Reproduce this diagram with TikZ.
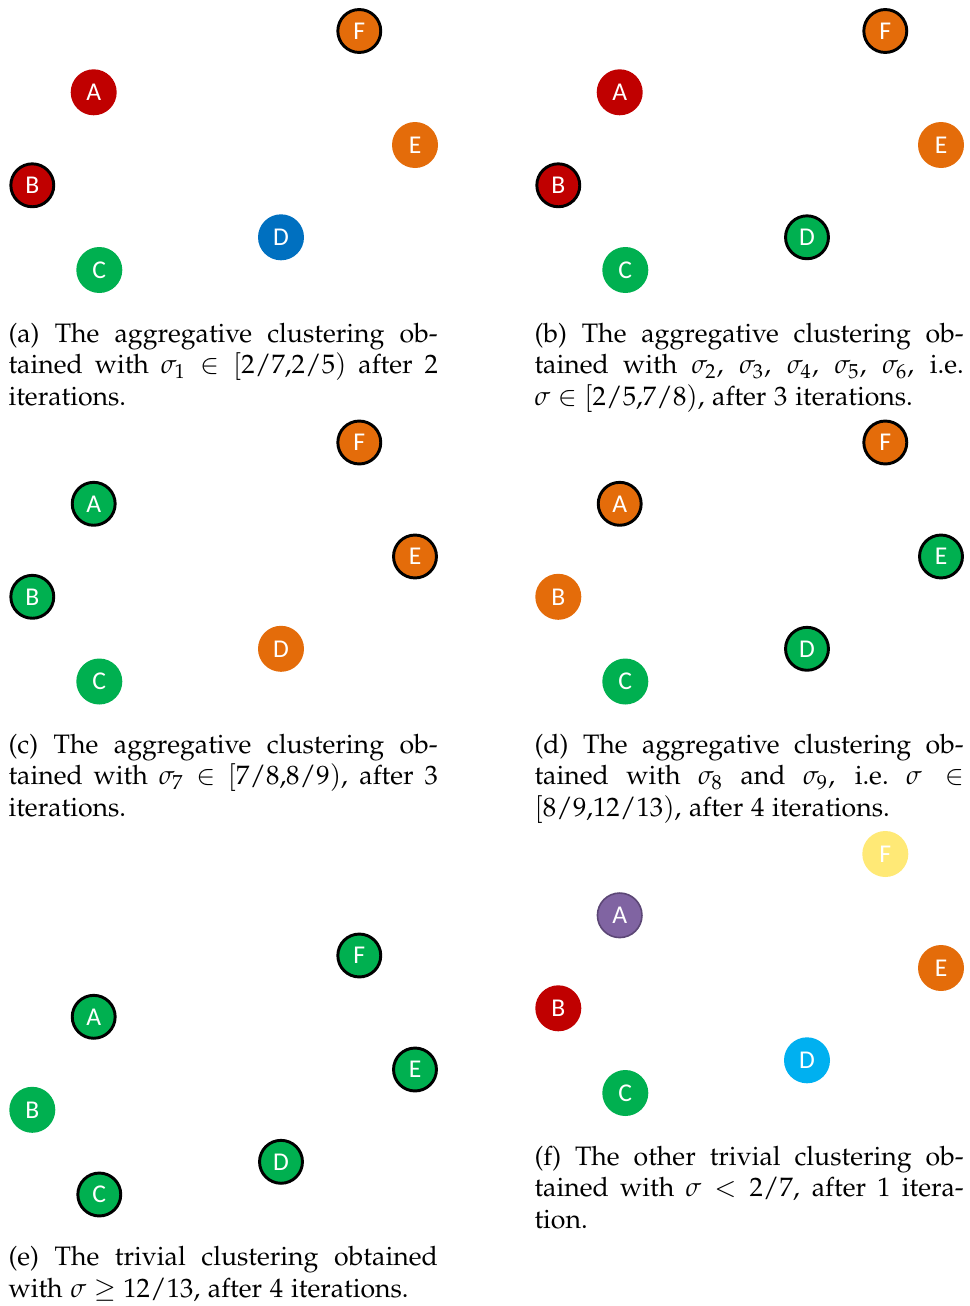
\documentclass[tikz,border=0pt]{standalone}
\usepackage[T1]{fontenc}
\usepackage{mathpazo}
\usepackage[no-math]{fontspec}
\newfontfamily\nodefont{Carlito}
\newcommand\capfont{\fontencoding{T1}\fontfamily{pplx}\fontsize{10}{12}\selectfont}
\newlength\capw \setlength\capw{161pt}
\definecolor{cred}{RGB}{192,0,0}
\definecolor{corange}{RGB}{228,108,10}
\definecolor{cblue}{RGB}{0,112,192}
\definecolor{cgreen}{RGB}{0,176,80}
\definecolor{cyellow}{RGB}{255,233,118}
\definecolor{cpurple}{RGB}{128,100,162}
\definecolor{cpurpled}{RGB}{92,71,118}
\definecolor{clblue}{RGB}{0,176,240}
\tikzset{
  nd/.style={circle, inner sep=0pt, text=white, font=\nodefont\fontsize{9.6}{10}\selectfont},
  pl/.style={nd, fill=#1, minimum size=17.25pt},
  bd/.style={nd, fill=#1, draw=black, line width=1.1pt, minimum size=16.1pt},
  pa/.style={nd, fill=cpurple, draw=cpurpled, line width=0.6pt, minimum size=16.7pt},
  capline/.style={anchor=base west, inner sep=0pt, font=\capfont},
}
\newcommand\panel[9]{%
  \begin{scope}[shift={(#2,#3)}]
    \node[#4] (#1A) at (93.7,92.3) {A};
    \node[#5] (#1B) at (32.3,185.3) {B};
    \node[#6] (#1C) at (99.3,270) {C};
    \node[#7] (#1D) at (281,237.3) {D};
    \node[#8] (#1E) at (415,145) {E};
    \node[#9] (#1F) at (359.3,31) {F};
  \end{scope}}
\newcommand\jline[4]{\node[capline] (#1) at (#2,#3) {\makebox[\capw][s]{#4}};}
\newcommand\eline[4]{\node[capline] (#1) at (#2,#3) {#4};}
\begin{document}
\begin{tikzpicture}[x=0.375pt,y=-0.375pt]
\useasboundingbox (0,0) rectangle (969,1306);
\panel{a}{0}{0}{pl=cred}{bd=cred}{pl=cgreen}{pl=cblue}{pl=corange}{bd=corange}
\panel{b}{526}{0}{pl=cred}{bd=cred}{pl=cgreen}{bd=cgreen}{pl=corange}{bd=corange}
\panel{c}{0}{411.5}{bd=cgreen}{bd=cgreen}{pl=cgreen}{pl=corange}{bd=corange}{bd=corange}
\panel{d}{526}{411.5}{bd=corange}{pl=corange}{pl=cgreen}{bd=cgreen}{bd=cgreen}{bd=corange}
\panel{e}{0}{924.5}{bd=cgreen}{pl=cgreen}{bd=cgreen}{bd=cgreen}{bd=cgreen}{bd=cgreen}
\panel{f}{526}{823}{pa}{pl=cred}{pl=cgreen}{pl=clblue}{pl=corange}{pl=cyellow}
% captions
\jline{capa1}{8}{342.3}{(a) The aggregative clustering ob-}
\jline{capa2}{8}{373.9}{tained with $\sigma_1 \in [2/7{,}2/5)$ after 2}
\eline{capa3}{8}{405.5}{iterations.}
\jline{capb1}{534}{342.3}{(b) The aggregative clustering ob-}
\jline{capb2}{534}{373.9}{tained with $\sigma_2$, $\sigma_3$, $\sigma_4$, $\sigma_5$, $\sigma_6$, i.e.}
\eline{capb3}{534}{405.5}{$\sigma \in [2/5{,}7/8)$, after 3 iterations.}
\jline{capc1}{8}{753.3}{(c) The aggregative clustering ob-}
\jline{capc2}{8}{784.9}{tained with $\sigma_7 \in [7/8{,}8/9)$, after 3}
\eline{capc3}{8}{816.5}{iterations.}
\jline{capd1}{534}{753.3}{(d) The aggregative clustering ob-}
\jline{capd2}{534}{784.9}{tained with $\sigma_8$ and $\sigma_9$, i.e.\ $\sigma \in$}
\eline{capd3}{534}{816.5}{$[8/9{,}12/13)$, after 4 iterations.}
\jline{cape1}{8}{1265.7}{(e) The trivial clustering obtained}
\eline{cape2}{8}{1297.5}{with $\sigma \geq 12/13$, after 4 iterations.}
\jline{capf1}{534}{1165}{(f) The other trivial clustering ob-}
\jline{capf2}{534}{1196.7}{tained with $\sigma < 2/7$, after 1 itera-}
\eline{capf3}{534}{1228.3}{tion.}
\end{tikzpicture}
\end{document}
